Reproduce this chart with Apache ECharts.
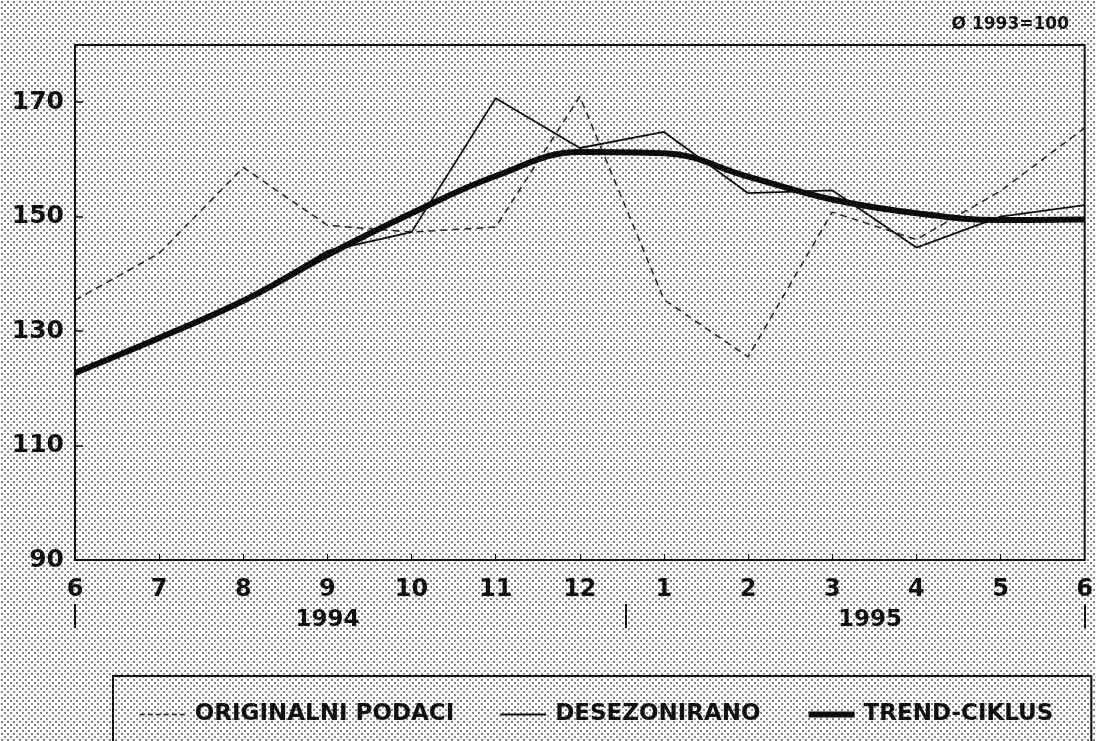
<!DOCTYPE html>
<html>
<head>
<meta charset="utf-8">
<script src="https://cdn.jsdelivr.net/npm/echarts@6/dist/echarts.min.js"></script>
<style>
  html, body { margin: 0; padding: 0; background: #fff; }
  #chart { width: 1096px; height: 741px; }
</style>
</head>
<body>
<div id="chart"></div>
<script>
// months jun 1994 .. jun 1995, index 1993 = 100
const months = ['6', '7', '8', '9', '10', '11', '12', '1', '2', '3', '4', '5', '6']
const original = [135.4, 143.6, 158.6, 148.5, 147.3, 148.2, 171.0, 135.5, 125.5, 150.8, 146.0, 154.5, 165.5]
const desezonirano = [122.8, 128.8, 135.3, 144.0, 147.3, 170.7, 162.0, 164.8, 154.1, 154.6, 144.6, 150.0, 152.0]
const trend = [122.7, 128.8, 135.3, 143.3, 150.6, 157.1, 161.3, 161.1, 157.0, 153.0, 150.6, 149.4, 149.5]
const yTicks = [90, 110, 130, 150, 170]
const yearLabels = ['1994', '1995']
const yearPos = [3, 9.45]
const yearBreaks = [0, 6.55, 12]

// halftone background like the scanned print
const dots = document.createElement('canvas')
dots.width = 6
dots.height = 6
const ctx = dots.getContext('2d')
ctx.fillStyle = '#ffffff'
ctx.fillRect(0, 0, 6, 6)
ctx.fillStyle = '#808080'
ctx.fillRect(1, 1, 2, 2)
ctx.fillRect(4, 4, 2, 2)

const font = 'DejaVu Sans'
const myChart = echarts.init(document.getElementById('chart'))
const option = {
  backgroundColor: { image: dots, repeat: 'repeat' },
  animation: false,
  title: {
    text: 'Ø 1993=100',
    right: 22,
    top: 11,
    textStyle: { fontFamily: font, fontWeight: 'bold', fontSize: 17, color: '#111' }
  },
  grid: {
    left: 75,
    right: 11,
    top: 45,
    bottom: 181,
    show: true,
    borderColor: '#111',
    borderWidth: 2,
    backgroundColor: 'transparent'
  },
  legend: {
    left: 113,
    top: 676,
    padding: [27, 38, 40, 26],
    borderColor: '#111',
    borderWidth: 2,
    itemWidth: 46,
    itemHeight: 12,
    itemGap: 45,
    itemStyle: { opacity: 0 },
    textStyle: { fontFamily: font, fontWeight: 'bold', fontSize: 23, color: '#111', padding: [0, 0, 0, 4] },
    data: [
      { name: 'ORIGINALNI PODACI', lineStyle: { width: 1.5, type: [5, 3] } },
      { name: 'DESEZONIRANO', lineStyle: { width: 1.8 } },
      { name: 'TREND-CIKLUS', lineStyle: { width: 6 } }
    ]
  },
  xAxis: [
    {
      type: 'category',
      data: months,
      boundaryGap: false,
      axisLine: { lineStyle: { color: '#111', width: 2 } },
      axisTick: { inside: true, length: 6, lineStyle: { color: '#111', width: 1 } },
      axisLabel: { margin: 18, fontFamily: font, fontWeight: 'bold', fontSize: 24, color: '#111' },
      splitLine: { show: false }
    },
    {
      type: 'value',
      position: 'bottom',
      offset: 44,
      min: 0,
      max: 12,
      axisLine: { show: false },
      axisTick: {
        show: true,
        length: 24,
        customValues: yearBreaks,
        lineStyle: { color: '#111', width: 2 }
      },
      axisLabel: {
        margin: 5,
        customValues: yearPos,
        formatter: v => yearLabels[yearPos.indexOf(v)],
        fontFamily: font,
        fontWeight: 'bold',
        fontSize: 23,
        color: '#111'
      },
      splitLine: { show: false }
    }
  ],
  yAxis: {
    type: 'value',
    min: 90,
    max: 180,
    axisLine: { show: true, lineStyle: { color: '#111', width: 2 } },
    axisTick: { show: true, inside: true, length: 8, customValues: yTicks, lineStyle: { color: '#111', width: 1.5 } },
    axisLabel: { margin: 11, customValues: yTicks, fontFamily: font, fontWeight: 'bold', fontSize: 25, color: '#111' },
    splitLine: { show: false }
  },
  series: [
    {
      name: 'ORIGINALNI PODACI',
      type: 'line',
      symbol: 'none',
      color: '#222',
      lineStyle: { color: '#222', width: 1.5, type: [7, 5] },
      data: original
    },
    {
      name: 'DESEZONIRANO',
      type: 'line',
      symbol: 'none',
      color: '#111',
      lineStyle: { color: '#111', width: 1.8 },
      data: desezonirano
    },
    {
      name: 'TREND-CIKLUS',
      type: 'line',
      symbol: 'none',
      smooth: 0.4,
      color: '#0c0c0c',
      lineStyle: { color: '#0c0c0c', width: 6 },
      data: trend
    }
  ]
}
myChart.setOption(option)
</script>
</body>
</html>
